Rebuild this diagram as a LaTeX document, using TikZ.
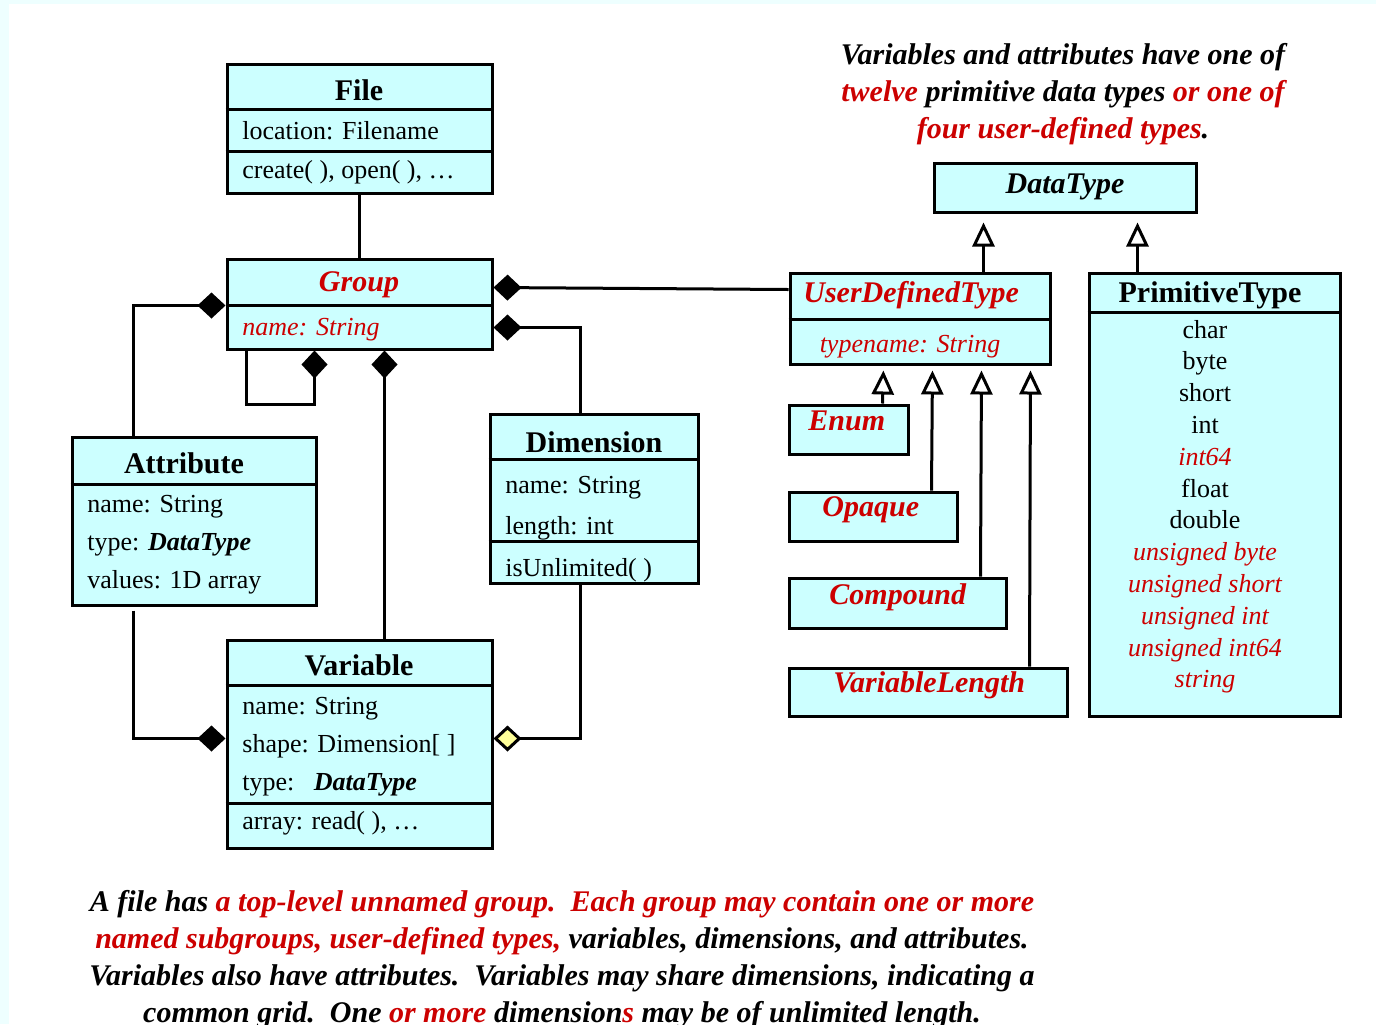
\documentclass[tikz,border=0pt]{standalone}
\usepackage{fontspec}
\setmainfont{Liberation Serif}
\usetikzlibrary{arrows.meta,calc,fit}
\definecolor{umlfill}{RGB}{204,255,255}
\definecolor{umlred}{RGB}{204,0,0}
\definecolor{edgecyan}{RGB}{238,255,255}
\definecolor{aggfill}{RGB}{255,255,153}
\newcommand\umlbody{\fontsize{13}{15}\selectfont}
\newcommand\umlhead{\fontsize{15}{18}\selectfont\bfseries}
\newcommand\notefont{\fontsize{15}{18.5}\selectfont\bfseries\itshape}

\begin{document}
\begin{tikzpicture}[x=0.5pt,y=-0.5pt,
  box/.style={draw,line width=1.5pt,fill=umlfill,inner sep=0pt},
  hdr/.style={font=\umlhead,inner sep=0pt},
  attr/.style={font=\umlbody,anchor=west,inner sep=0pt,text height=10pt,text depth=2pt},
  redtxt/.style={text=umlred},
  prim/.style={font=\umlbody,inner sep=0pt,text height=10pt,text depth=2pt},
  primred/.style={prim,redtxt,font=\umlbody\itshape},
  link/.style={line width=1.5pt},
  comp/.style={link,-{Diamond[length=14pt,width=13pt]}},
  agg/.style={link,-{Diamond[length=14pt,width=13pt,fill=aggfill]}},
  gen/.style={link,-{Triangle[open,length=12pt,width=11pt]}}]

  \fill[edgecyan] (0,0) rectangle (1376,1024);
  \fill[white] (9,4) rectangle (1376,1024);
  \useasboundingbox (0,0) rectangle (1376,1024);

  \node[box,fit={(227,64) (492,193)}] (file) {};
  \node[box,fit={(227,259) (492,349)}] (group) {};
  \node[box,fit={(72,437) (316,605)}] (attribute) {};
  \node[box,fit={(490,414) (698,583)}] (dimension) {};
  \node[box,fit={(227,640) (492,848)}] (variable) {};
  \node[box,fit={(934,163) (1196,212)}] (datatype) {};
  \node[box,fit={(790,273) (1050,364)}] (udt) {};
  \node[box,fit={(1089,273) (1340,716)}] (primitive) {};
  \node[box,fit={(789,405) (908,454)}] (enum) {};
  \node[box,fit={(789,492) (957,541)}] (opaque) {};
  \node[box,fit={(789,578) (1006,628)}] (compound) {};
  \node[box,fit={(789,668) (1067,716)}] (varlength) {};

  \foreach \n/\d in {file/47,file/89,group/48,attribute/49,dimension/47,dimension/129,
                     variable/47,variable/165,udt/48,primitive/41}
    \draw[link] ($(\n.north west)+(0,\d)$) -- ($(\n.north east)+(0,\d)$);

  \node[hdr] at (359,90) {File};
  \node[attr] at (242,131) {location: Filename};
  \node[attr] at (242,170) {create( ), open( ), \ldots};

  \node[hdr,redtxt,font=\umlhead\itshape] at (359,285) {Group};
  \node[attr,redtxt,font=\umlbody\itshape] at (242,327) {name: String};

  \node[hdr] at (184,463) {Attribute};
  \node[attr] at (87,504) {name: String};
  \node[attr] at (87,542) {type: \textbf{\textit{DataType}}};
  \node[attr] at (87,580) {values: 1D array};

  \node[hdr] at (594,442) {Dimension};
  \node[attr] at (505,485) {name: String};
  \node[attr] at (505,526) {length: int};
  \node[attr] at (505,568) {isUnlimited( )};

  \node[hdr] at (359,665) {Variable};
  \node[attr] at (242,706) {name: String};
  \node[attr] at (242,744) {shape: Dimension[ ]};
  \node[attr] at (242,782) {type:\enspace\ \textbf{\textit{DataType}}};
  \node[attr] at (242,821) {array: read( ), \ldots};

  \node[hdr,font=\umlhead\itshape] at (1065,187) {DataType};
  \node[hdr,redtxt,font=\umlhead\itshape,anchor=west] at (803,295) {UserDefinedType};
  \node[attr,redtxt,font=\umlbody\itshape,anchor=center] at (910,344) {typename: String};
  \node[hdr] at (1210,295) {PrimitiveType};
  \foreach \t/\s [count=\i from 0] in {char/prim,byte/prim,short/prim,int/prim,int64/primred,
      float/prim,double/prim,unsigned byte/primred,unsigned short/primred,
      unsigned int/primred,unsigned int64/primred,string/primred}
    \node[\s] at (1205,330+31.8*\i) {\t};

  \node[hdr,redtxt,font=\umlhead\itshape,anchor=west] at (808,421) {Enum};
  \node[hdr,redtxt,font=\umlhead\itshape,anchor=west] at (822,510) {Opaque};
  \node[hdr,redtxt,font=\umlhead\itshape,anchor=west] at (829,597) {Compound};
  \node[hdr,redtxt,font=\umlhead\itshape,anchor=west] at (833,685) {VariableLength};

  \draw[link] (file.south) -- (group.north);
  \draw[comp] ($(udt.north west)+(0,18)$) -- ($(group.north east)+(0,30)$);
  \draw[comp] ($(dimension.north west)+(92,0)$) |- ($(group.north east)+(0,70)$);
  \draw[comp] ($(attribute.north west)+(63,0)$) |- ($(group.north west)+(0,48)$);
  \draw[comp] ($(group.south west)+(21,0)$) -- ++(0,54) -| ($(group.south west)+(89,0)$);
  \draw[comp] ($(variable.north west)+(159,0)$) -- ($(group.south west)+(159,0)$);
  \draw[comp] ($(attribute.south west)+(63,4)$) |- ($(variable.north west)+(0,100)$);
  \draw[agg] ($(dimension.south west)+(92,0)$) |- ($(variable.north east)+(0,100)$);

  \draw[gen,shorten >=4.5pt] ($(udt.north west)+(195,0)$) -- ($(datatype.south west)+(51,0)$);
  \draw[gen,shorten >=4.5pt] ($(primitive.north west)+(50,0)$) -- ($(datatype.south west)+(205,0)$);
  \foreach \n/\d in {enum/95,opaque/144,compound/193,varlength/242}
    \draw[gen,shorten >=2.5pt] ($(\n.north west)+(\d,0)$) -- ($(udt.south west)+(\d,0)$);

  \node[font=\notefont,align=center] (topnote) at (1063,94)
    {Variables and attributes have one of\\
     \textcolor{umlred}{twelve} primitive data types \textcolor{umlred}{or one of}\\
     \textcolor{umlred}{four user-defined types}.};
  \node[font=\notefont,align=center] (bottomnote) at (562,960)
    {A file has \textcolor{umlred}{a top-level unnamed group.\ \ Each group may contain one or more}\\
     \textcolor{umlred}{named subgroups, user-defined types,} variables, dimensions, and attributes.\\
     Variables also have attributes.\ \ Variables may share dimensions, indicating a\\
     common grid.\ \ One \textcolor{umlred}{or more} dimension\textcolor{umlred}{s} may be of unlimited length.};
\end{tikzpicture}
\end{document}
